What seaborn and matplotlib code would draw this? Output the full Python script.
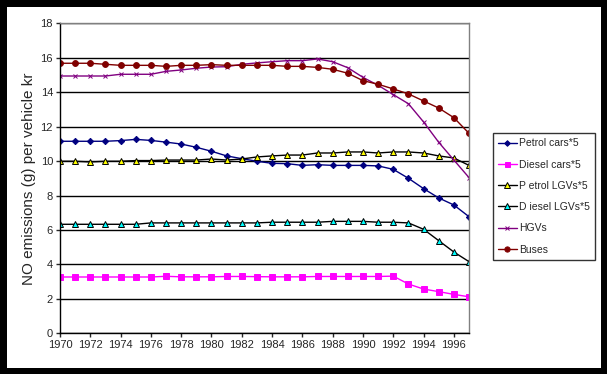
import numpy as np
import pandas as pd
import seaborn as sns
import matplotlib.pyplot as plt

# Values
years = list(range(1970, 1998))

petrol_cars = [11.15, 11.15, 11.15, 11.15, 11.19, 11.26, 11.2, 11.1, 10.99, 10.8,
               10.57, 10.3, 10.14, 9.99, 9.87, 9.85, 9.75, 9.79, 9.75, 9.75,
               9.75, 9.72, 9.52, 9.0, 8.4, 7.86, 7.45, 6.77]
diesel_cars = [3.27, 3.27, 3.27, 3.27, 3.27, 3.27, 3.27, 3.31, 3.28, 3.28,
               3.28, 3.3, 3.3, 3.29, 3.28, 3.28, 3.28, 3.3, 3.3, 3.3,
               3.3, 3.3, 3.32, 2.86, 2.57, 2.42, 2.26, 2.12]
petrol_lgvs = [9.99, 9.99, 9.95, 9.99, 9.99, 10.03, 10.03, 10.06, 10.06, 10.06,
               10.12, 10.06, 10.12, 10.24, 10.3, 10.35, 10.35, 10.47, 10.47, 10.53,
               10.53, 10.47, 10.53, 10.53, 10.47, 10.3, 10.18, 9.75]
diesel_lgvs = [6.33, 6.33, 6.33, 6.33, 6.33, 6.33, 6.41, 6.41, 6.41, 6.41,
               6.41, 6.41, 6.41, 6.41, 6.45, 6.45, 6.45, 6.45, 6.5, 6.5,
               6.5, 6.45, 6.45, 6.41, 6.04, 5.38, 4.72, 4.16]
hgvs = [14.94, 14.94, 14.94, 14.94, 15.04, 15.04, 15.04, 15.21, 15.29, 15.39,
        15.46, 15.48, 15.62, 15.7, 15.77, 15.83, 15.83, 15.93, 15.77, 15.42,
        14.86, 14.4, 13.86, 13.33, 12.27, 11.09, 10.06, 9.04]
buses = [15.68, 15.68, 15.68, 15.62, 15.56, 15.56, 15.56, 15.5, 15.56, 15.56,
         15.6, 15.56, 15.56, 15.56, 15.56, 15.5, 15.5, 15.44, 15.33, 15.1,
         14.67, 14.46, 14.19, 13.9, 13.49, 13.08, 12.52, 11.61]

labels = ['Petrol cars*5', 'Diesel cars*5', 'P etrol LGVs*5',
          'D iesel LGVs*5', 'HGVs', 'Buses']
x_ticks = list(range(1970, 1997, 2))
y_ticks = list(range(0, 19, 2))

sns.set_style('white')
plt.rcParams['font.family'] = ['Liberation Sans', 'DejaVu Sans']

df = pd.DataFrame({'Year': years, labels[0]: petrol_cars, labels[1]: diesel_cars,
                   labels[2]: petrol_lgvs, labels[3]: diesel_lgvs,
                   labels[4]: hgvs, labels[5]: buses})

# line colour, marker, face colour, edge colour, marker size
styles = {
    labels[0]: ('#000080', 'D', '#000080', '#000080', 3.2),
    labels[1]: ('#ff00ff', 's', '#ff00ff', '#ff00ff', 4),
    labels[2]: ('#000000', '^', '#ffff00', '#000000', 4.5),
    labels[3]: ('#000000', '^', '#00ffff', '#000000', 4.5),
    labels[4]: ('#800080', 'x', '#800080', '#800080', 3.5),
    labels[5]: ('#800000', 'o', '#800000', '#800000', 4.2),
}

fig = plt.figure(figsize=(6.07, 3.74), dpi=100, facecolor='white',
                 edgecolor='black', linewidth=8)
ax = fig.add_axes([0.0988, 0.1088, 0.6739, 0.8289])

for lab in labels:
    c, m, fc, ec, ms = styles[lab]
    sns.lineplot(data=df, x='Year', y=lab, ax=ax, color=c, marker=m,
                 markerfacecolor=fc, markeredgecolor=ec, markersize=ms,
                 markeredgewidth=0.7, linewidth=1, label=lab)

ax.set_xlim(1970, 1997)
ax.set_ylim(0, 18)
ax.set_xticks(x_ticks)
ax.set_yticks(y_ticks)
ax.tick_params(axis='both', labelsize=8, length=3, width=1, direction='out',
               bottom=True, left=True, pad=2)
ax.grid(axis='y', color='black', linewidth=1)
ax.set_axisbelow(True)
for side in ['left', 'bottom']:
    ax.spines[side].set_color('black')
    ax.spines[side].set_linewidth(1)
for side in ['top', 'right']:
    ax.spines[side].set_color('#808080')
    ax.spines[side].set_linewidth(1)
ax.set_xlabel('')
ax.set_ylabel('NO emissions (g) per vehicle kr', fontsize=11, labelpad=3)

leg = ax.legend(loc='upper left', bbox_to_anchor=(0.812, 0.644),
                bbox_transform=fig.transFigure, fontsize=7.5, frameon=True,
                fancybox=False, edgecolor='black', labelspacing=1.08,
                handlelength=1.8, handletextpad=0.2, borderpad=0.5,
                borderaxespad=0, markerscale=0.9)
leg.get_frame().set_linewidth(1)

fig.savefig('out.png', dpi=100, facecolor='white', edgecolor='black')
